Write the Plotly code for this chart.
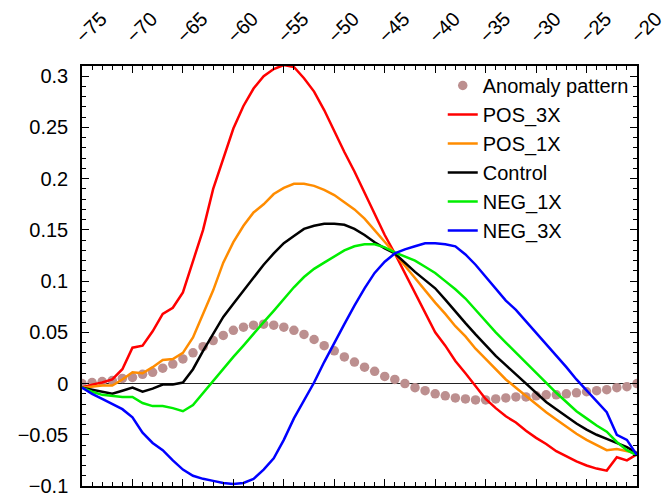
import plotly.graph_objects as go

lat = list(range(-75, -19))

anomaly = [0.000, 0.001, 0.002, 0.003, 0.005, 0.006, 0.009, 0.011, 0.015, 0.019,
           0.024, 0.030, 0.036, 0.042, 0.047, 0.052, 0.055, 0.057, 0.058, 0.057,
           0.055, 0.052, 0.048, 0.043, 0.037, 0.032, 0.026, 0.021, 0.016, 0.012,
           0.007, 0.004, 0.000, -0.004, -0.007, -0.010, -0.012, -0.014, -0.015, -0.016,
           -0.016, -0.015, -0.014, -0.013, -0.013, -0.012, -0.011, -0.011, -0.010, -0.009,
           -0.008, -0.007, -0.006, -0.004, -0.003, 0.000]

pos_3x = [-0.004, -0.001, 0.001, 0.004, 0.014, 0.035, 0.037, 0.051, 0.068, 0.074,
          0.089, 0.119, 0.150, 0.190, 0.220, 0.249, 0.271, 0.288, 0.300, 0.307,
          0.311, 0.309, 0.298, 0.285, 0.267, 0.246, 0.226, 0.207, 0.186, 0.165,
          0.145, 0.127, 0.108, 0.088, 0.069, 0.050, 0.037, 0.022, 0.010, -0.003,
          -0.015, -0.024, -0.032, -0.038, -0.046, -0.053, -0.059, -0.066, -0.071, -0.076,
          -0.080, -0.083, -0.085, -0.072, -0.075, -0.069]

pos_1x = [-0.004, -0.003, -0.002, -0.002, 0.004, 0.011, 0.010, 0.016, 0.023, 0.024,
          0.030, 0.045, 0.068, 0.091, 0.118, 0.138, 0.154, 0.167, 0.175, 0.185,
          0.191, 0.195, 0.195, 0.193, 0.189, 0.184, 0.177, 0.170, 0.161, 0.150,
          0.138, 0.127, 0.115, 0.103, 0.090, 0.079, 0.068, 0.056, 0.046, 0.034,
          0.024, 0.014, 0.004, -0.004, -0.012, -0.020, -0.028, -0.035, -0.042, -0.049,
          -0.055, -0.060, -0.065, -0.064, -0.066, -0.068]

control = [-0.004, -0.006, -0.008, -0.010, -0.007, -0.004, -0.008, -0.005, -0.001, -0.001,
           0.001, 0.014, 0.032, 0.048, 0.065, 0.078, 0.091, 0.103, 0.116, 0.127,
           0.137, 0.144, 0.151, 0.154, 0.156, 0.156, 0.155, 0.151, 0.145, 0.138,
           0.132, 0.127, 0.118, 0.109, 0.101, 0.093, 0.082, 0.070, 0.059, 0.048,
           0.037, 0.027, 0.018, 0.009, 0.000, -0.009, -0.018, -0.025, -0.032, -0.039,
           -0.045, -0.050, -0.054, -0.058, -0.062, -0.068]

neg_1x = [-0.004, -0.008, -0.011, -0.012, -0.013, -0.013, -0.019, -0.022, -0.022, -0.024,
          -0.027, -0.021, -0.009, 0.003, 0.015, 0.026, 0.037, 0.049, 0.060, 0.071,
          0.083, 0.094, 0.104, 0.112, 0.118, 0.124, 0.130, 0.134, 0.136, 0.136,
          0.133, 0.128, 0.124, 0.120, 0.114, 0.108, 0.100, 0.092, 0.083, 0.072,
          0.060, 0.050, 0.040, 0.030, 0.020, 0.011, 0.001, -0.009, -0.018, -0.027,
          -0.034, -0.041, -0.047, -0.057, -0.065, -0.070]

neg_3x = [-0.004, -0.010, -0.015, -0.020, -0.025, -0.033, -0.048, -0.058, -0.065, -0.075,
          -0.084, -0.090, -0.093, -0.095, -0.097, -0.098, -0.097, -0.093, -0.084, -0.073,
          -0.055, -0.034, -0.017, 0.001, 0.021, 0.040, 0.058, 0.076, 0.093, 0.108,
          0.119, 0.127, 0.131, 0.134, 0.137, 0.137, 0.136, 0.134, 0.126, 0.116,
          0.104, 0.092, 0.081, 0.072, 0.061, 0.050, 0.039, 0.027, 0.016, 0.004,
          -0.007, -0.017, -0.028, -0.050, -0.055, -0.070]

series = [
    ("POS_3X", pos_3x, "#ff0000"),
    ("POS_1X", pos_1x, "#ff8c00"),
    ("Control", control, "#000000"),
    ("NEG_1X", neg_1x, "#00ee00"),
    ("NEG_3X", neg_3x, "#0000ff"),
]

FONT = "Liberation Sans, Arial, sans-serif"

fig = go.Figure()
fig.add_trace(go.Scatter(x=lat, y=anomaly, mode="markers", name="Anomaly pattern",
                         marker=dict(color="#bc8f8f", size=9.5, line=dict(width=0))))
for name, vals, col in series:
    fig.add_trace(go.Scatter(x=lat, y=vals, mode="lines", name=name,
                             line=dict(color=col, width=2.5)))

fig.update_layout(
    width=668, height=493,
    margin=dict(l=82, r=31, t=66, b=7, autoexpand=False),
    paper_bgcolor="white", plot_bgcolor="white",
    font=dict(family=FONT, size=20, color="black"),
    showlegend=True,
    legend=dict(x=0.65, y=1.0, xanchor="left", yanchor="top",
                bgcolor="rgba(0,0,0,0)", borderwidth=0,
                font=dict(size=20), tracegroupgap=0),
    xaxis=dict(side="top", range=[-75, -20], tick0=-75, dtick=5,
               tickangle=-45, ticks="inside", ticklen=7, tickwidth=1.2,
               tickcolor="black", showline=True, linecolor="black", linewidth=1.5,
               mirror="allticks", showgrid=False, zeroline=False,
               minor=dict(dtick=1, ticks="inside", ticklen=4, tickcolor="black",
                          tickwidth=1, showgrid=False),
               ticklabelstandoff=9, ticklabelshift=-5,
               ticklabeloverflow="allow", automargin=False,
               tickfont=dict(size=20)),
    yaxis=dict(range=[-0.1, 0.31], tick0=0, dtick=0.05,
               ticks="inside", ticklen=7, tickwidth=1.2, tickcolor="black",
               showline=True, linecolor="black", linewidth=1.5,
               mirror="allticks", showgrid=False,
               zeroline=True, zerolinecolor="#222222", zerolinewidth=1,
               minor=dict(dtick=0.01, ticks="inside", ticklen=4, tickcolor="black",
                          tickwidth=1, showgrid=False),
               ticklabelstandoff=8, ticklabeloverflow="allow", automargin=False,
               tickfont=dict(size=20)),
)

fig.write_html("out.html")
